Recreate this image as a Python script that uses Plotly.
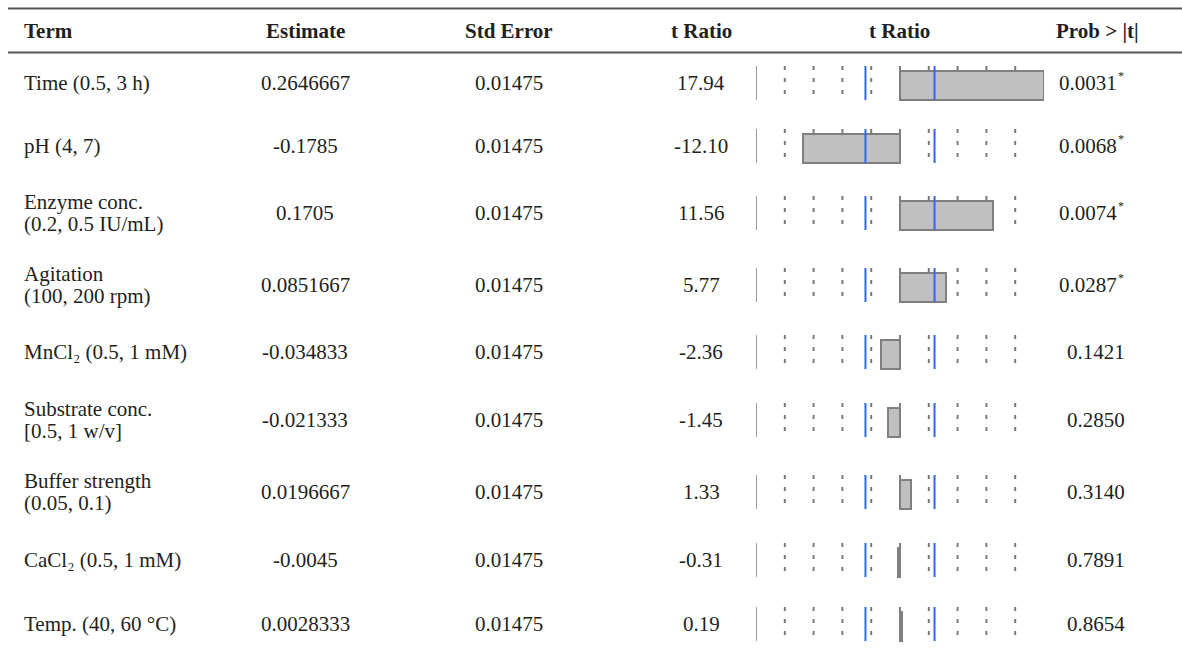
import plotly.graph_objects as go

# ---- data -------------------------------------------------------------
terms = [
    ["Time (0.5, 3 h)"],
    ["pH (4, 7)"],
    ["Enzyme conc.", "(0.2, 0.5 IU/mL)"],
    ["Agitation", "(100, 200 rpm)"],
    ["MnCl₂ (0.5, 1 mM)"],
    ["Substrate conc.", "[0.5, 1 w/v]"],
    ["Buffer strength", "(0.05, 0.1)"],
    ["CaCl₂ (0.5, 1 mM)"],
    ["Temp. (40, 60 °C)"],
]
estimate = ["0.2646667", "-0.1785", "0.1705", "0.0851667", "-0.034833",
            "-0.021333", "0.0196667", "-0.0045", "0.0028333"]
std_error = ["0.01475"] * 9
t_ratio = [17.94, -12.10, 11.56, 5.77, -2.36, -1.45, 1.33, -0.31, 0.19]
prob = ["0.0031", "0.0068", "0.0074", "0.0287", "0.1421",
        "0.2850", "0.3140", "0.7891", "0.8654"]
significant = [True, True, True, True, False, False, False, False, False]
T_CRIT = 4.303          # critical t, alpha = 0.05, 2 df
headers = ["Term", "Estimate", "Std Error", "t Ratio", "t Ratio", "Prob > |t|"]

# ---- layout constants (pixels) ----------------------------------------
W, H = 1182, 648
ROW_Y = [83, 146, 213, 285, 352, 420, 492, 560, 624]
ROW_HALF = 17
BAR_H = 29
LINE_GAP = 22
COL_X = {"term": 22, "est": 305, "se": 509, "t": 701, "plot": 899, "prob": 1096}
PLOT_LEFT, PLOT_RIGHT = 756, 1044

FONT = "Liberation Serif, Times New Roman, serif"
FONT_SIZE = 21
TEXT_COLOR = "#231f20"
BAR_FILL = "#c0c0c0"
BAR_EDGE = "#7f7f7f"
BLUE = "#2f66f5"

t_max = max(abs(v) for v in t_ratio)

fig = go.Figure()

# t-ratio bars, drawn from zero on the plot axis
fig.add_trace(go.Bar(
    x=t_ratio,
    y=[y + (ROW_HALF - BAR_H / 2) for y in ROW_Y],
    base=0,
    orientation="h",
    width=BAR_H,
    marker=dict(color=BAR_FILL, line=dict(color=BAR_EDGE, width=2)),
    hoverinfo="skip",
    showlegend=False,
))

shapes = []
for y in ROW_Y:
    y0, y1 = y - ROW_HALF, y + ROW_HALF
    # reference dotted lines at fifths of the max |t|
    for k in (-4, -3, -2, -1, 1, 2, 3, 4):
        xv = k * t_max / 5
        shapes.append(dict(type="line", xref="x", yref="y", x0=xv, x1=xv,
                           y0=y0, y1=y1, layer="below",
                           line=dict(color="#7a7a7a", width=2, dash="4px,8px")))
    # left boundary of the plot
    shapes.append(dict(type="line", xref="x", yref="y", x0=-t_max, x1=-t_max,
                       y0=y0, y1=y1, line=dict(color="#9a9a9a", width=2)))
    # zero line
    shapes.append(dict(type="line", xref="x", yref="y", x0=0, x1=0,
                       y0=y0, y1=y1, layer="below",
                       line=dict(color="#7f7f7f", width=2)))
    # significance limits
    for xv in (-T_CRIT, T_CRIT):
        shapes.append(dict(type="line", xref="x", yref="y", x0=xv, x1=xv,
                           y0=y0, y1=y1, line=dict(color=BLUE, width=2)))

# header rules
for yy in (8.5, 52.5):
    shapes.append(dict(type="line", xref="paper", yref="y", x0=8 / W, x1=1,
                       y0=yy, y1=yy, line=dict(color="#555555", width=2)))

annotations = []


def px(x):
    return x / W


def add_text(text, x, y, anchor="center", bold=False, size=FONT_SIZE, pad=1):
    annotations.append(dict(
        text=f"<b>{text}</b>" if bold else text,
        x=px(x), y=y, xref="paper", yref="y",
        xanchor=anchor, yanchor="middle", showarrow=False, borderpad=pad,
        font=dict(family=FONT, size=size, color=TEXT_COLOR),
    ))


# header row
header_x = [COL_X["term"], COL_X["est"], COL_X["se"], COL_X["t"], COL_X["plot"], 1097]
for i, h in enumerate(headers):
    add_text(h, header_x[i], 31, anchor="left" if i == 0 else "center", bold=True)

# body rows
for i, y in enumerate(ROW_Y):
    lines = terms[i]
    n = len(lines)
    for j, line in enumerate(lines):
        add_text(line, COL_X["term"], y + (j - (n - 1) / 2) * LINE_GAP, anchor="left")
    add_text(estimate[i], COL_X["est"], y)
    add_text(std_error[i], COL_X["se"], y)
    add_text(f"{t_ratio[i]:.2f}", COL_X["t"], y)
    if significant[i]:
        add_text(prob[i], COL_X["prob"] + 22, y, anchor="right", pad=0)
        add_text("*", COL_X["prob"] + 21, y - 7, anchor="left", size=12, pad=0)
    else:
        add_text(prob[i], COL_X["prob"], y)

fig.update_layout(
    width=W, height=H,
    margin=dict(l=0, r=0, t=0, b=0),
    paper_bgcolor="white", plot_bgcolor="white",
    shapes=shapes, annotations=annotations,
    bargap=0,
    xaxis=dict(range=[-t_max, t_max], domain=[PLOT_LEFT / W, PLOT_RIGHT / W],
               visible=False, fixedrange=True),
    yaxis=dict(range=[H, 0], domain=[0, 1], visible=False, fixedrange=True),
    showlegend=False,
)

fig.write_html("out.html")
